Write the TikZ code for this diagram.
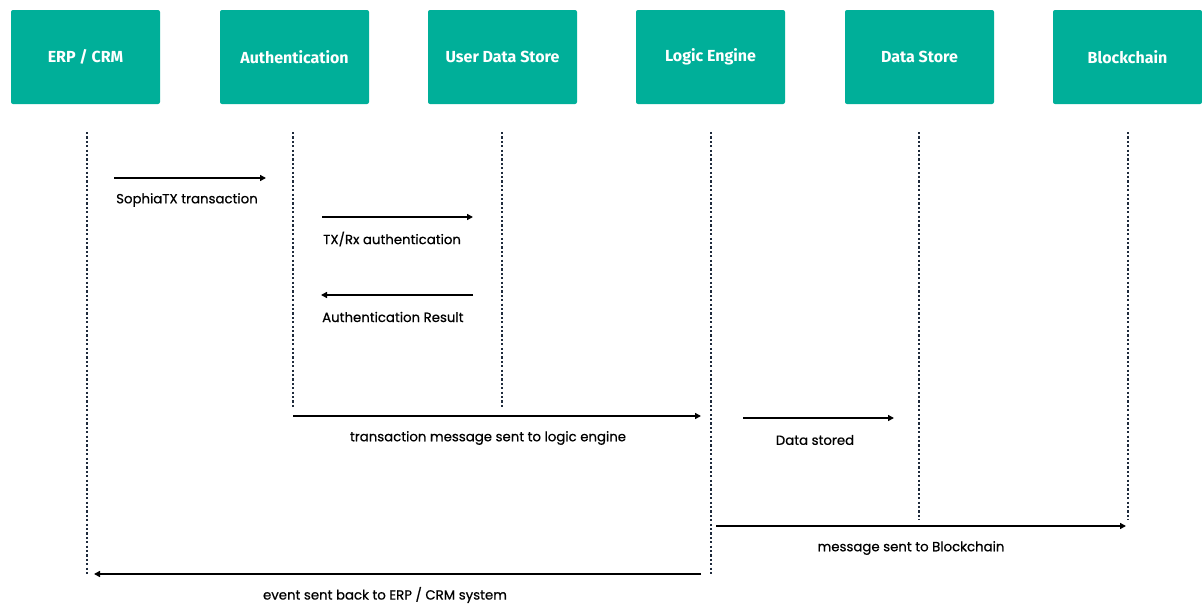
\documentclass[tikz,border=0pt]{standalone}
\usepackage{fontspec}
\setmainfont{Poppins}
\newfontfamily\lblfont{Poppins}[FakeBold=0.6]
\newfontfamily\headfont{Fira Sans}
\usetikzlibrary{arrows.meta}
\definecolor{teal1}{HTML}{00AF99}
\definecolor{lifec}{HTML}{1F2B3C}
\tikzset{
  actor/.style={fill=teal1, rounded corners=2pt, minimum width=149pt, minimum height=94pt, inner sep=0pt, text=white, font=\headfont\bfseries\fontsize{16}{18}\selectfont},
  life/.style={lifec, line width=2pt, dash pattern=on 2.2pt off 2.2pt},
  msg/.style={line width=1.7pt, -{Triangle[length=6pt,width=6pt]}},
  lbl/.style={font=\lblfont\fontsize{13.3}{15}\selectfont, inner sep=0pt, text=black},
}
\begin{document}
\begin{tikzpicture}[x=1pt,y=-1pt]
\useasboundingbox (0,0) rectangle (1202,605);
\node[actor] (erp) at (85.5,57) {ERP / CRM};
\node[actor] (auth) at (294.5,57) {Authentication};
\node[actor] (uds) at (502.5,57) {User Data Store};
\node[actor] (logic) at (710.5,57) {Logic Engine};
\node[actor] (ds) at (919.5,57) {Data Store};
\node[actor] (bc) at (1127.5,57) {Blockchain};
% lifelines
\coordinate (erpT) at (87,132); \coordinate (erpB) at (87,575);
\coordinate (authT) at (293,132); \coordinate (authB) at (293,408);
\coordinate (udsT) at (502,132); \coordinate (udsB) at (502,408);
\coordinate (logT) at (711,132); \coordinate (logB) at (711,575);
\coordinate (dsT) at (919,132); \coordinate (dsB) at (919,520);
\coordinate (bcT) at (1128,132); \coordinate (bcB) at (1128,520);
\draw[life] (erpT) -- (erpB);
\draw[life] (authT) -- (authB);
\draw[life] (udsT) -- (udsB);
\draw[life] (logT) -- (logB);
\draw[life] (dsT) -- (dsB);
\draw[life] (bcT) -- (bcB);
% messages
\coordinate (m1a) at (114,178); \coordinate (m1b) at (266,178);
\draw[msg] (m1a) -- (m1b);
\node[lbl, anchor=west] (l1) at (116,200) {SophiaTX transaction};
\coordinate (m2a) at (322,217); \coordinate (m2b) at (473,217);
\draw[msg] (m2a) -- (m2b);
\node[lbl, anchor=west] (l2) at (323,239) {TX/Rx authentication};
\coordinate (m3a) at (473,295); \coordinate (m3b) at (321,295);
\draw[msg] (m3a) -- (m3b);
\node[lbl, anchor=west] (l3) at (322,317) {Authentication Result};
\coordinate (m4a) at (293,416); \coordinate (m4b) at (701,416);
\draw[msg] (m4a) -- (m4b);
\node[lbl] (l4) at (488,438) {transaction message sent to logic engine};
\coordinate (m5a) at (743,418); \coordinate (m5b) at (894,418);
\draw[msg] (m5a) -- (m5b);
\node[lbl] (l5) at (815,440) {Data stored};
\coordinate (m6a) at (716,526); \coordinate (m6b) at (1126,526);
\draw[msg] (m6a) -- (m6b);
\node[lbl] (l6) at (911,548) {message sent to Blockchain};
\coordinate (m7a) at (701,574); \coordinate (m7b) at (94,574);
\draw[msg] (m7a) -- (m7b);
\node[lbl] (l7) at (385,595) {event sent back to ERP / CRM system};
\end{tikzpicture}
\end{document}
